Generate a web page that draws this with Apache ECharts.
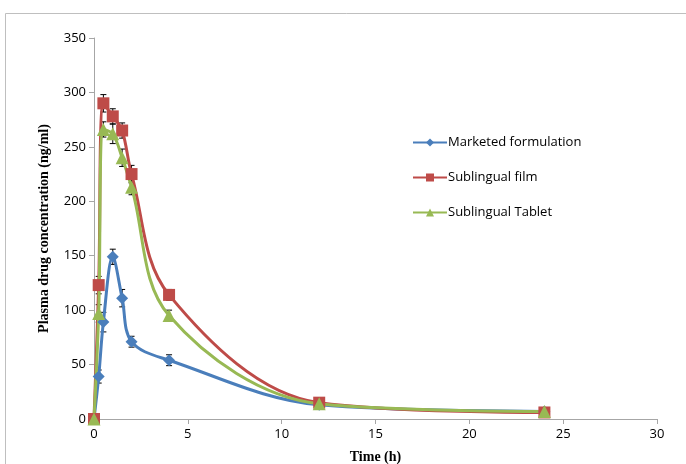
<!DOCTYPE html>
<html><head><meta charset="utf-8">
<script src="https://cdn.jsdelivr.net/npm/echarts@6/dist/echarts.min.js"></script>
<style>html,body{margin:0;padding:0;background:#fff}#c{width:686px;height:464px}</style>
</head><body><div id="c"></div>
<script>
const times = [0, 0.25, 0.5, 1, 1.5, 2, 4, 12, 24];
const marketed = [0, 39, 89, 149, 111, 71, 54, 13, 7];
const marketedErr = [0, 6, 9, 7, 8, 5, 5, 2, 1];
const film = [0, 123, 290, 278, 265, 225, 114, 15, 6];
const filmErr = [0, 8, 8, 7, 7, 8, 5, 2, 1];
const tablet = [0, 97, 266, 262, 240, 213, 95, 14, 7];
const tabletErr = [0, 8, 7, 9, 8, 7, 5, 2, 1];
const seriesNames = ['Marketed formulation', 'Sublingual film', 'Sublingual Tablet'];
const colors = ['#4a7ebb', '#be4b48', '#98b954'];
const xTicks = [0, 5, 10, 15, 20, 25, 30];
const yTicks = [0, 50, 100, 150, 200, 250, 300, 350];

const chart = echarts.init(document.getElementById('c'));
function pts(v){ return times.map((t,i)=>[t, v[i]]); }
function errData(v,e){ return times.map((t,i)=>[t, v[i]-e[i], v[i]+e[i]]).filter((d,i)=>e[i]>0); }
function errSeries(v,e){
  return {
    type:'custom', silent:true, z:5,
    data: errData(v,e),
    renderItem:function(params, api){
      const lo = api.coord([api.value(0), api.value(1)]);
      const hi = api.coord([api.value(0), api.value(2)]);
      const w = 3;
      return {type:'group', children:[
        {type:'line', shape:{x1:lo[0],y1:lo[1],x2:hi[0],y2:hi[1]}, style:{stroke:'#000',lineWidth:1}},
        {type:'line', shape:{x1:lo[0]-w,y1:lo[1],x2:lo[0]+w,y2:lo[1]}, style:{stroke:'#000',lineWidth:1}},
        {type:'line', shape:{x1:hi[0]-w,y1:hi[1],x2:hi[0]+w,y2:hi[1]}, style:{stroke:'#000',lineWidth:1}}
      ]};
    }
  };
}
const symbols = ['diamond','rect','triangle'];
const sizes = [12, 12, 13];
const vals = [marketed, film, tablet];
const errs = [marketedErr, filmErr, tabletErr];
const series = [];
for (let k=0;k<3;k++){
  series.push(errSeries(vals[k], errs[k]));
}
for (let k=0;k<3;k++){
  series.push({
    name: seriesNames[k], type:'line', smooth:0.35, data: pts(vals[k]),
    symbol: symbols[k], symbolSize: sizes[k], showAllSymbol:true,
    lineStyle:{color:colors[k], width:3}, itemStyle:{color:colors[k]},
    z: 10
  });
}
chart.setOption({
  animation:false,
  backgroundColor:'#fff',
  graphic:[{type:'rect', shape:{x:5.5,y:13.5,width:700,height:470}, style:{fill:'none', stroke:'#bfbfbf', lineWidth:1}, z:-1}],
  grid:{left:94, right:29, top:38, bottom:45, containLabel:false, outerBoundsMode:'none'},
  legend:{
    orient:'vertical', left:407, top:131, itemGap:22, itemWidth:34, itemHeight:10,
    data: seriesNames,
    textStyle:{fontFamily:'Open Sans, Liberation Sans', fontSize:13, color:'#000', padding:[0,0,0,-4]}
  },
  xAxis:{
    type:'value', min:0, max:30, interval:5,
    name:'Time (h)', nameLocation:'middle', nameGap:31,
    nameTextStyle:{fontFamily:'Liberation Serif', fontWeight:'bold', fontSize:14, color:'#000'},
    axisLine:{lineStyle:{color:'#a6a6a6'}},
    axisTick:{show:true, length:5, inside:false, lineStyle:{color:'#a6a6a6'}},
    axisLabel:{fontFamily:'Open Sans, Liberation Sans', fontSize:13, color:'#000', margin:9},
    splitLine:{show:false}
  },
  yAxis:{
    type:'value', min:0, max:350, interval:50,
    name:'Plasma drug concentration (ng/ml)', nameLocation:'middle', nameGap:43, nameRotate:90,
    nameTextStyle:{fontFamily:'Liberation Serif', fontWeight:'bold', fontSize:14, color:'#000'},
    axisLine:{show:true, lineStyle:{color:'#a6a6a6'}},
    axisTick:{show:true, length:5, lineStyle:{color:'#a6a6a6'}},
    axisLabel:{fontFamily:'Open Sans, Liberation Sans', fontSize:13, color:'#000', margin:8},
    splitLine:{show:false}
  },
  series: series
});
</script></body></html>
